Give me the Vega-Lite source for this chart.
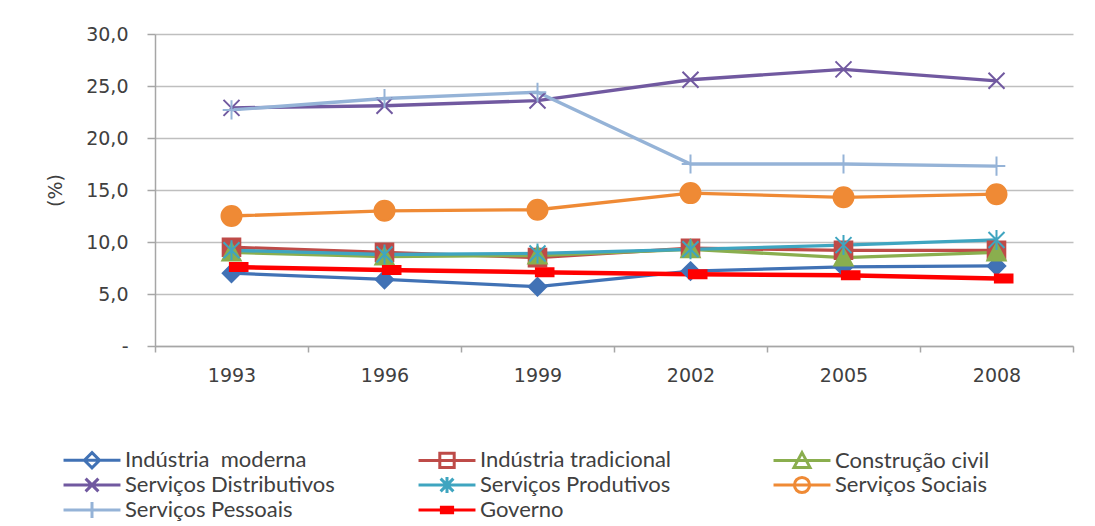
{
 "$schema": "https://vega.github.io/schema/vega-lite/v6.json",
 "width": 918,
 "height": 312,
 "autosize": {"type": "none"},
 "padding": {"left": 155, "top": 34, "right": 22, "bottom": 180},
 "background": "white",
 "config": {"view": {"stroke": null}, "font": "DejaVu Sans"},
 "data": {"values": [
  {"series": "Indústria moderna", "year": 1993, "value": 7.0},
  {"series": "Indústria moderna", "year": 1996, "value": 6.4},
  {"series": "Indústria moderna", "year": 1999, "value": 5.7},
  {"series": "Indústria moderna", "year": 2002, "value": 7.2},
  {"series": "Indústria moderna", "year": 2005, "value": 7.6},
  {"series": "Indústria moderna", "year": 2008, "value": 7.7},
  {"series": "Indústria tradicional", "year": 1993, "value": 9.5},
  {"series": "Indústria tradicional", "year": 1996, "value": 9.0},
  {"series": "Indústria tradicional", "year": 1999, "value": 8.5},
  {"series": "Indústria tradicional", "year": 2002, "value": 9.4},
  {"series": "Indústria tradicional", "year": 2005, "value": 9.2},
  {"series": "Indústria tradicional", "year": 2008, "value": 9.2},
  {"series": "Construção civil", "year": 1993, "value": 9.0},
  {"series": "Construção civil", "year": 1996, "value": 8.6},
  {"series": "Construção civil", "year": 1999, "value": 8.7},
  {"series": "Construção civil", "year": 2002, "value": 9.3},
  {"series": "Construção civil", "year": 2005, "value": 8.5},
  {"series": "Construção civil", "year": 2008, "value": 9.0},
  {"series": "Serviços Distributivos", "year": 1993, "value": 22.9},
  {"series": "Serviços Distributivos", "year": 1996, "value": 23.1},
  {"series": "Serviços Distributivos", "year": 1999, "value": 23.6},
  {"series": "Serviços Distributivos", "year": 2002, "value": 25.6},
  {"series": "Serviços Distributivos", "year": 2005, "value": 26.6},
  {"series": "Serviços Distributivos", "year": 2008, "value": 25.5},
  {"series": "Serviços Produtivos", "year": 1993, "value": 9.2},
  {"series": "Serviços Produtivos", "year": 1996, "value": 8.8},
  {"series": "Serviços Produtivos", "year": 1999, "value": 8.9},
  {"series": "Serviços Produtivos", "year": 2002, "value": 9.3},
  {"series": "Serviços Produtivos", "year": 2005, "value": 9.7},
  {"series": "Serviços Produtivos", "year": 2008, "value": 10.2},
  {"series": "Serviços Sociais", "year": 1993, "value": 12.5},
  {"series": "Serviços Sociais", "year": 1996, "value": 13.0},
  {"series": "Serviços Sociais", "year": 1999, "value": 13.1},
  {"series": "Serviços Sociais", "year": 2002, "value": 14.7},
  {"series": "Serviços Sociais", "year": 2005, "value": 14.3},
  {"series": "Serviços Sociais", "year": 2008, "value": 14.6},
  {"series": "Serviços Pessoais", "year": 1993, "value": 22.7},
  {"series": "Serviços Pessoais", "year": 1996, "value": 23.8},
  {"series": "Serviços Pessoais", "year": 1999, "value": 24.4},
  {"series": "Serviços Pessoais", "year": 2002, "value": 17.5},
  {"series": "Serviços Pessoais", "year": 2005, "value": 17.5},
  {"series": "Serviços Pessoais", "year": 2008, "value": 17.3},
  {"series": "Governo", "year": 1993, "value": 7.6},
  {"series": "Governo", "year": 1996, "value": 7.3},
  {"series": "Governo", "year": 1999, "value": 7.1},
  {"series": "Governo", "year": 2002, "value": 6.9},
  {"series": "Governo", "year": 2005, "value": 6.8},
  {"series": "Governo", "year": 2008, "value": 6.5}
 ]},
 "encoding": {
  "x": {"field": "year", "type": "quantitative",
   "scale": {"domain": [1991.5, 2009.5], "nice": false, "zero": false},
   "axis": {"values": [1991.5, 1994.5, 1997.5, 2000.5, 2003.5, 2006.5, 2009.5],
    "labelExpr": "datum.value > 2008 ? '' : toString(datum.value + 1.5)",
    "labelOffset": 76.5, "labelFlush": false, "labelOverlap": false, "labelBound": false,
    "grid": false, "title": null, "tickSize": 6, "labelPadding": 14,
    "domainColor": "#A6A6A6", "tickColor": "#A6A6A6", "domainWidth": 1.5, "tickWidth": 1.5,
    "labelFontSize": 19, "labelColor": "#404040", "labelFont": "DejaVu Sans"}},
  "y": {"field": "value", "type": "quantitative",
   "scale": {"domain": [0, 30], "nice": false},
   "axis": {"values": [0, 5, 10, 15, 20, 25, 30],
    "labelExpr": "datum.value == 0 ? '-\u00a0\u00a0' : replace(format(datum.value, '.1f'), '.', ',')",
    "title": "(%)", "titleX": -100, "titleY": 156, "titleAngle": -90, "titleAlign": "center", "titleBaseline": "middle",
    "titleFontSize": 19, "titleFontWeight": "normal", "titleColor": "#404040", "titleFont": "DejaVu Sans",
    "tickSize": 8, "labelPadding": 19, "labelFontSize": 19, "labelColor": "#404040", "labelFont": "DejaVu Sans",
    "gridColor": "#BFBFBF", "gridWidth": 1.5, "domainColor": "#A6A6A6", "tickColor": "#A6A6A6", "domainWidth": 1.5, "tickWidth": 1.5}}
 },
 "layer": [
  {"mark": {"type": "line", "strokeWidth": {"expr": "datum.series === 'Governo' ? 4.5 : 3.3"}},
   "encoding": {"stroke": {"field": "series", "type": "nominal",
    "scale": {"domain": ["Indústria moderna", "Indústria tradicional", "Construção civil", "Serviços Distributivos", "Serviços Produtivos", "Serviços Sociais", "Serviços Pessoais", "Governo"],
     "range": ["#4172B5", "#BE4B48", "#8AAE4E", "#7159A0", "#3FA5C0", "#EF8A35", "#95B3D7", "#FF0000"]}}}},
  {"mark": {"type": "point", "filled": true, "opacity": 0, "size": 256, "strokeWidth": 3},
   "encoding": {
    "fill": {"field": "series", "type": "nominal",
     "scale": {"domain": ["Indústria moderna", "Indústria tradicional", "Construção civil", "Serviços Distributivos", "Serviços Produtivos", "Serviços Sociais", "Serviços Pessoais", "Governo"],
      "range": ["#4172B5", "#BE4B48", "#8AAE4E", "#7159A0", "#3FA5C0", "#EF8A35", "#95B3D7", "#FF0000"]},
     "legend": {"orient": "none", "legendX": -74, "legendY": 415, "columns": 3, "direction": "horizontal", "title": null,
      "labelFontSize": 22, "labelFont": "Lato", "labelColor": "#404040", "labelLimit": 400,
      "labelExpr": "datum.label === 'Indústria moderna' ? 'Indústria\u00a0\u00a0moderna' : datum.label",
      "symbolSize": 256, "symbolStrokeWidth": 3, "symbolOpacity": 1, "labelOffset": 22, "columnPadding": 77, "rowPadding": -10.5,
      "gridAlign": "all", "padding": 0}},
    "stroke": {"field": "series", "type": "nominal"},
    "shape": {"field": "series", "type": "nominal",
     "scale": {"domain": ["Indústria moderna", "Indústria tradicional", "Construção civil", "Serviços Distributivos", "Serviços Produtivos", "Serviços Sociais", "Serviços Pessoais", "Governo"],
      "range": ["M-3.56,0H3.56M0,-0.95L0.95,0L0,0.95L-0.95,0Z", "M-3.56,0H3.56M-0.9,-0.9H0.9V0.9H-0.9Z", "M-3.56,0H3.56M0,-1L1,0.85H-1Z", "M-3.56,0H3.56M-0.8,-0.8L0.8,0.8M-0.8,0.8L0.8,-0.8", "M-3.56,0H3.56M-0.8,-0.8L0.8,0.8M-0.8,0.8L0.8,-0.8M0,-1V1", "M-3.56,0H3.56M-0.95,0A0.95,0.95 0 1,0 0.95,0A0.95,0.95 0 1,0 -0.95,0Z", "M-3.56,0H3.56M0,-1V1", "M-3.56,0H3.56M-0.7,-0.35H0.7V0.35H-0.7Z"]}}
   }},
  {"mark": {"type": "point", "filled": true, "opacity": 1, "size": 256, "strokeWidth": 2,
    "stroke": {"expr": "scale('fill', datum.series)"},
    "shape": {"expr": "datum.series === 'Indústria moderna' ? 'M0,-1.1L1.1,0L0,1.1L-1.1,0Z' : datum.series === 'Indústria tradicional' ? 'M-1.1,-1.1H1.1V1.1H-1.1Z' : datum.series === 'Construção civil' ? 'M0,-1.15L1.15,1H-1.15Z' : datum.series === 'Serviços Distributivos' ? 'M-1,-1L1,1M-1,1L1,-1' : datum.series === 'Serviços Produtivos' ? 'M-1,-1L1,1M-1,1L1,-1M0,-1.25V1.25' : datum.series === 'Serviços Sociais' ? 'M-1.25,0A1.25,1.25 0 1,0 1.25,0A1.25,1.25 0 1,0 -1.25,0Z' : datum.series === 'Serviços Pessoais' ? 'M-1.1,0H1.1M0,-1.2V1.2' : 'M-0.2,-0.5H2V0.5H-0.2Z'"}},
   "encoding": {"fill": {"field": "series", "type": "nominal"}}}
 ]
}
